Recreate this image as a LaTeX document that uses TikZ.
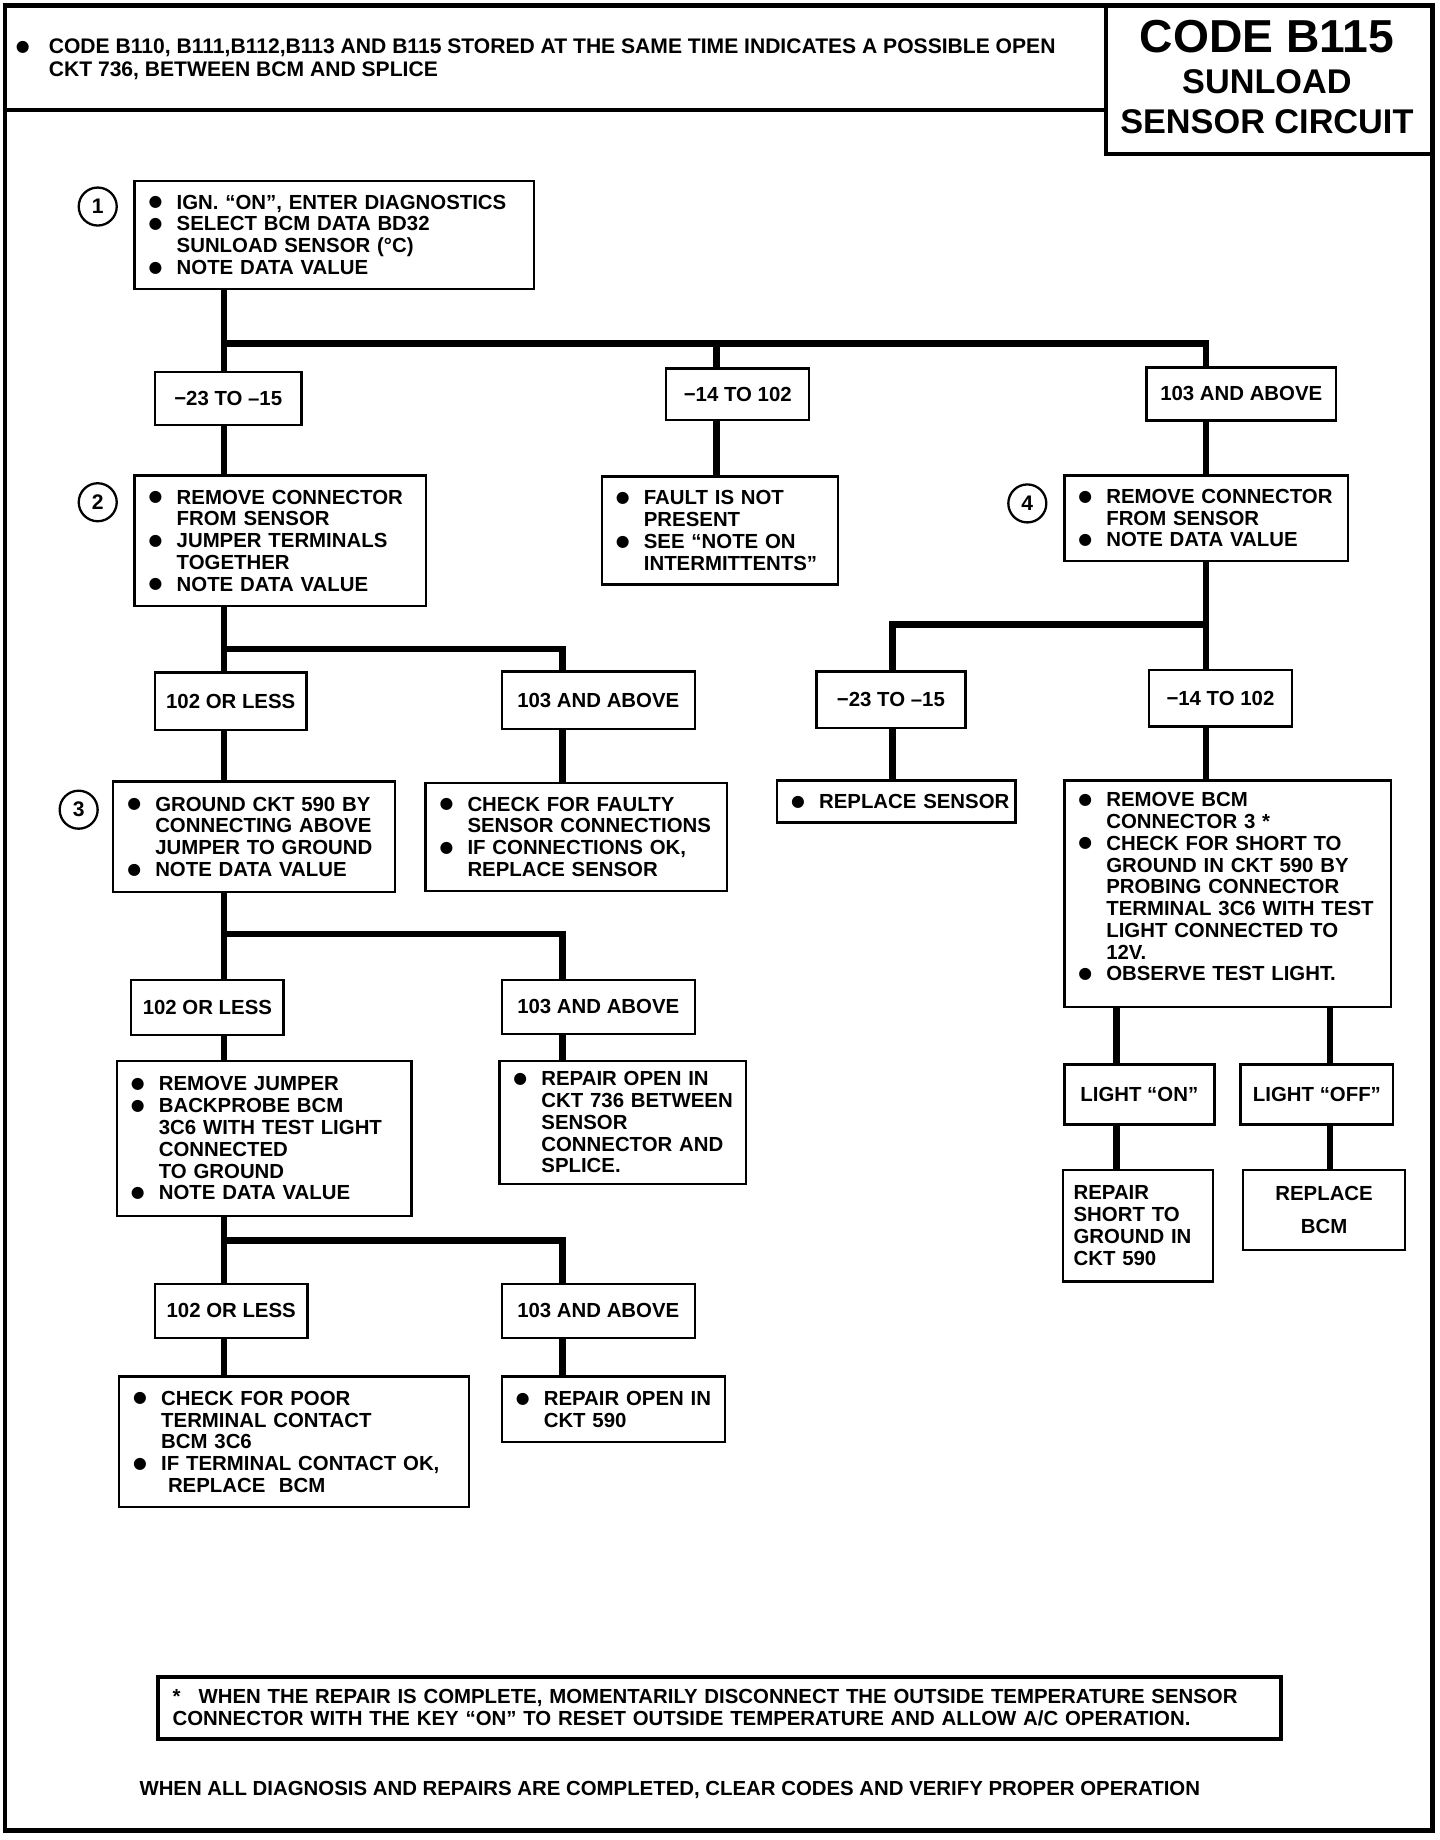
\documentclass[tikz,border=0pt]{standalone}
\usepackage{fontspec}
\setmainfont{Liberation Sans}
\newfontfamily\dotfont{DejaVu Sans}
\newcommand{\flowfont}{\fontsize{11.6}{12.4}\selectfont\bfseries}
\newcommand{\bigdot}{\raisebox{1.3pt}{\dotfont\fontsize{9}{9}\selectfont ●}}
\newcommand{\blt}{\hspace*{0.28cm}\makebox[0.56cm][l]{\bigdot}}
\newcommand{\hng}{\hspace*{0.84cm}}

\begin{document}
\begin{tikzpicture}[x=0.023841cm, y=-0.023469cm,
    wire/.style={line width=3.8pt},
    blk/.style={draw, line width=1.4pt, anchor=north west, inner sep=0pt, align=left, font=\flowfont},
    rng/.style={draw, line width=1.4pt, anchor=north west, inner sep=0pt, align=center, font=\flowfont},
    num/.style={draw, circle, line width=1.3pt, minimum size=0.76cm, inner sep=0pt, font=\fontsize{12}{12}\selectfont\bfseries}]
    \useasboundingbox (0,0) rectangle (1208,1568);

    % Frame and title block
    \draw[line width=2.8pt] (4.2,4.3) rectangle (1202,1559.5);
    \draw[line width=2.3pt] (4.2,93.8) -- (928,93.8);
    \draw[line width=2.3pt] (928,4.3) -- (928,131) -- (1202,131);
    \node[font=\fontsize{26.3}{26}\selectfont\bfseries] (code) at (1063,31) {CODE B115};
    \node[font=\fontsize{19.5}{19.5}\selectfont\bfseries] (sunload) at (1063,70) {SUNLOAD};
    \node[font=\fontsize{19.5}{19.5}\selectfont\bfseries] (circuit) at (1063,104) {SENSOR CIRCUIT};
    \node[anchor=west, align=left, inner sep=0pt, font=\fontsize{12}{12.7}\selectfont\bfseries] (hdr) at (13,50.5)
        {\makebox[0.66cm][l]{\bigdot}CODE B110, B111,B112,B113 AND B115 STORED AT THE SAME TIME INDICATES A POSSIBLE OPEN\\\hspace*{0.66cm}CKT 736, BETWEEN BCM AND SPLICE};

    % Step numbers
    \node[num] (n1) at (82,176) {1};
    \node[num] (n2) at (82,428) {2};
    \node[num] (n3) at (66,690) {3};
    \node[num] (n4) at (862,429) {4};

    % Step 1
    \node[blk, text width=7.99cm, minimum height=2.16cm] (s1) at (112,153)
        {\blt IGN. “ON”, ENTER DIAGNOSTICS\\\blt SELECT BCM DATA BD32\\\hng SUNLOAD SENSOR (°C)\\\blt NOTE DATA VALUE};
    \node[rng, minimum width=2.93cm, minimum height=1.06cm] (r1a) at (129,316) {−23 TO –15};
    \node[rng, minimum width=2.86cm, minimum height=1.03cm] (r1b) at (558,313) {−14 TO 102};
    \node[rng, minimum width=3.79cm, minimum height=1.06cm] (r1c) at (961,312) {103 AND ABOVE};

    % Step 2 and fault not present
    \node[blk, text width=5.82cm, minimum height=2.61cm] (s2) at (112,404)
        {\blt REMOVE CONNECTOR\\\hng FROM SENSOR\\\blt JUMPER TERMINALS\\\hng TOGETHER\\\blt NOTE DATA VALUE};
    \node[blk, text width=4.72cm, minimum height=2.16cm] (fnp) at (504,405)
        {\blt FAULT IS NOT\\\hng PRESENT\\\blt SEE “NOTE ON\\\hng INTERMITTENTS”};
    \node[rng, minimum width=3.03cm, minimum height=1.15cm] (r2a) at (129,572) {102 OR LESS};
    \node[rng, minimum width=3.86cm, minimum height=1.15cm] (r2b) at (420,571) {103 AND ABOVE};

    % Step 3
    \node[blk, text width=5.63cm, minimum height=2.21cm] (s3) at (94,665)
        {\blt GROUND CKT 590 BY\\\hng CONNECTING ABOVE\\\hng JUMPER TO GROUND\\\blt NOTE DATA VALUE};
    \node[blk, text width=6.03cm, minimum height=2.16cm] (cfs) at (356,666)
        {\blt CHECK FOR FAULTY\\\hng SENSOR CONNECTIONS\\\blt IF CONNECTIONS OK,\\\hng REPLACE SENSOR};
    \node[rng, minimum width=3.05cm, minimum height=1.10cm] (r3a) at (109,834) {102 OR LESS};
    \node[rng, minimum width=3.86cm, minimum height=1.08cm] (r3b) at (420,834) {103 AND ABOVE};

    % Backprobe
    \node[blk, text width=5.89cm, minimum height=3.10cm] (s5) at (97,903)
        {\blt REMOVE JUMPER\\\blt BACKPROBE BCM\\\hng 3C6 WITH TEST LIGHT\\\hng CONNECTED\\\hng TO GROUND\\\blt NOTE DATA VALUE};
    \node[blk, text width=4.93cm, minimum height=2.46cm] (ro736) at (418,903)
        {\blt REPAIR OPEN IN\\\hng CKT 736 BETWEEN\\\hng SENSOR\\\hng CONNECTOR AND\\\hng SPLICE.};
    \node[rng, minimum width=3.05cm, minimum height=1.08cm] (r5a) at (129,1093) {102 OR LESS};
    \node[rng, minimum width=3.86cm, minimum height=1.08cm] (r5b) at (420,1093) {103 AND ABOVE};
    \node[blk, text width=6.99cm, minimum height=2.61cm] (cpt) at (99,1172)
        {\blt CHECK FOR POOR\\\hng TERMINAL CONTACT\\\hng BCM 3C6\\\blt IF TERMINAL CONTACT OK,\\\hng\ REPLACE\ \ BCM};
    \node[blk, text width=4.46cm, minimum height=1.31cm] (ro590) at (420,1172)
        {\blt REPAIR OPEN IN\\\hng CKT 590};

    % Step 4
    \node[blk, text width=5.67cm, minimum height=1.71cm] (s4) at (892,404)
        {\blt REMOVE CONNECTOR\\\hng FROM SENSOR\\\blt NOTE DATA VALUE};
    \node[rng, minimum width=2.98cm, minimum height=1.13cm] (r4a) at (684,571) {−23 TO –15};
    \node[rng, minimum width=2.86cm, minimum height=1.13cm] (r4b) at (963,570) {−14 TO 102};
    \node[blk, text width=4.77cm, minimum height=0.84cm] (rsen) at (651,664) {\blt REPLACE SENSOR};
    \node[blk, text width=6.53cm, minimum height=4.53cm] (rbcmc) at (892,664)
        {\blt REMOVE BCM\\\hng CONNECTOR 3 *\\\blt CHECK FOR SHORT TO\\\hng GROUND IN CKT 590 BY\\\hng PROBING CONNECTOR\\\hng TERMINAL 3C6 WITH TEST\\\hng LIGHT CONNECTED TO\\\hng 12V.\\\blt OBSERVE TEST LIGHT.\rule[-0.28cm]{0pt}{0pt}};
    \node[rng, minimum width=3.00cm, minimum height=1.20cm] (lon) at (892,906) {LIGHT “ON”};
    \node[rng, minimum width=3.05cm, minimum height=1.20cm] (loff) at (1040,906) {LIGHT “OFF”};
    \node[blk, text width=3.00cm, minimum height=2.23cm] (rsh) at (891,996)
        {\hspace*{0.21cm}REPAIR\\\hspace*{0.21cm}SHORT TO\\\hspace*{0.21cm}GROUND IN\\\hspace*{0.21cm}CKT 590};
    \node[rng, minimum width=3.24cm, minimum height=1.60cm] (rbcm) at (1042,996) {REPLACE\\[6pt]BCM};

    % Junctions
    \coordinate (j1) at (188,293);
    \coordinate (k1) at (601,293);
    \coordinate (k2) at (1012,293);
    \coordinate (j2) at (188,553);
    \coordinate (k5) at (472,553);
    \coordinate (j3) at (1012,532);
    \coordinate (k3) at (749,532);
    \coordinate (j4) at (188,796);
    \coordinate (k6) at (472,796);
    \coordinate (j5) at (188,1057);
    \coordinate (k7) at (472,1057);
    \coordinate (xon) at (937,857);
    \coordinate (xoff) at (1116,857);

    % Connectors
    \draw[wire] (s1.south -| j1) -- (r1a.north -| j1);
    \draw[wire] (j1) -- (k2) -- (r1c.north -| k2);
    \draw[wire] (k1) -- (r1b.north -| k1);
    \draw[wire] (r1a.south -| j1) -- (s2.north -| j1);
    \draw[wire] (r1b.south -| k1) -- (fnp.north -| k1);
    \draw[wire] (r1c.south -| k2) -- (s4.north -| k2);

    \draw[wire] (s2.south -| j1) -- (r2a.north -| j1);
    \draw[wire] (j2) -- (k5) -- (r2b.north -| k5);
    \draw[wire] (r2a.south -| j1) -- (s3.north -| j1);
    \draw[wire] (r2b.south -| k5) -- (cfs.north -| k5);
    \draw[wire] (s3.south -| j1) -- (r3a.north -| j1);
    \draw[wire] (j4) -- (k6) -- (r3b.north -| k6);
    \draw[wire] (r3a.south -| j1) -- (s5.north -| j1);
    \draw[wire] (r3b.south -| k6) -- (ro736.north -| k6);
    \draw[wire] (s5.south -| j1) -- (r5a.north -| j1);
    \draw[wire] (j5) -- (k7) -- (r5b.north -| k7);
    \draw[wire] (r5a.south -| j1) -- (cpt.north -| j1);
    \draw[wire] (r5b.south -| k7) -- (ro590.north -| k7);

    \draw[wire] (s4.south -| k2) -- (r4b.north -| k2);
    \draw[wire] (j3) -- (k3) -- (r4a.north -| k3);
    \draw[wire] (r4a.south -| k3) -- (rsen.north -| k3);
    \draw[wire] (r4b.south -| k2) -- (rbcmc.north -| k2);
    \draw[wire] (rbcmc.south -| xon) -- (lon.north -| xon);
    \draw[wire] (rbcmc.south -| xoff) -- (loff.north -| xoff);
    \draw[wire] (lon.south -| xon) -- (rsh.north -| xon);
    \draw[wire] (loff.south -| xoff) -- (rbcm.north -| xoff);

    % Notes
    \node[blk, line width=2.3pt, text width=22.46cm, minimum height=1.24cm, font=\fontsize{11.6}{12.7}\selectfont\bfseries] (note) at (131,1427)
        {\hspace*{0.29cm}*\hspace{0.36cm}WHEN THE REPAIR IS COMPLETE, MOMENTARILY DISCONNECT THE OUTSIDE TEMPERATURE SENSOR\\\hspace*{0.29cm}CONNECTOR WITH THE KEY “ON” TO RESET OUTSIDE TEMPERATURE AND ALLOW A/C OPERATION.};
    \node[font=\fontsize{11.6}{12}\selectfont\bfseries] (foot) at (562,1525)
        {WHEN ALL DIAGNOSIS AND REPAIRS ARE COMPLETED, CLEAR CODES AND VERIFY PROPER OPERATION};
\end{tikzpicture}
\end{document}
